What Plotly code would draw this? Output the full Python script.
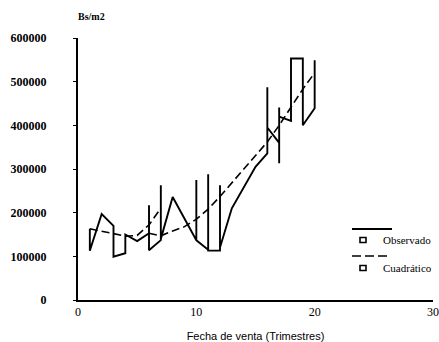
import plotly.graph_objects as go

# Observed series (quarter, Bs/m2) in drawing order
obs_x = [1, 1, 2, 3, 3, 4, 4, 5, 6, 6, 6, 7, 7, 7, 8, 10, 10, 10, 11, 11, 11, 12, 12, 12,
         13, 14, 15, 16, 16, 16, 17, 17, 17, 17, 18, 18, 19, 19, 20, 20]
obs_y = [163000, 113000, 197000, 170000, 99000, 107000, 150000, 135000, 153000, 217000, 114000,
         137000, 263000, 140000, 236000, 137000, 275000, 137000, 115000, 288000, 113000,
         113000, 263000, 120000, 210000, 258000, 305000, 336000, 487000, 395000, 360000,
         313000, 441000, 420000, 410000, 553000, 553000, 400000, 439000, 549000]

# Quadratic fit series
quad_x = [1, 2, 3, 4, 5, 6, 7, None, 6, 7, 8, 9, 10, 11, 12, 13, 14, 15, 16, 17, 18, 19, 20]
quad_y = [163000, 158000, 152000, 146000, 148000, 172000, 210000, None, 153000, 147000, 158000,
          168000, 185000, 208000, 237000, 268000, 298000, 330000, 362000, 400000, 443000,
          483000, 520000]

y_ticks = [0, 100000, 200000, 300000, 400000, 500000, 600000]
x_ticks = [0, 10, 20, 30]
legend_names = ["Observado", "Cuadrático"]

SERIF = "Liberation Serif"
L, R, T, B = 78, 6, 38, 42
W, H = 439, 342
PW, PH = W - L - R, H - T - B

fig = go.Figure()
fig.add_trace(go.Scatter(x=obs_x, y=obs_y, mode="lines", name=legend_names[0],
                         line=dict(color="black", width=1.9), showlegend=False))
fig.add_trace(go.Scatter(x=quad_x, y=quad_y, mode="lines", name=legend_names[1],
                         line=dict(color="black", width=1.6, dash="8px,4px"),
                         connectgaps=False, showlegend=False))

fig.update_layout(
    width=W, height=H,
    margin=dict(l=L, r=R, t=T, b=B),
    paper_bgcolor="white", plot_bgcolor="white",
    font=dict(family=SERIF, color="black"),
    xaxis=dict(range=[0, 30], tickvals=x_ticks, ticktext=[str(v) for v in x_ticks],
               automargin=False, ticklabeloverflow="allow",
               showline=True, linecolor="black", linewidth=2, showgrid=False, zeroline=False,
               ticks="", tickfont=dict(family=SERIF, size=12),
               title=dict(text="Fecha de venta (Trimestres)",
                          font=dict(family="Liberation Sans", size=11), standoff=14)),
    yaxis=dict(range=[0, 600000], tickvals=y_ticks, ticktext=[str(v) for v in y_ticks],
               automargin=False,
               showline=True, linecolor="black", linewidth=2, showgrid=False, zeroline=False,
               ticks="outside", ticklen=3, tickwidth=1, tickcolor="black",
               ticklabelstandoff=24,
               tickfont=dict(family=SERIF, size=12, weight="bold")),
)

# helpers: page pixels -> paper coordinates
def px_x(p):
    return (p - L) / PW

def px_y(p):
    return (H - B - p) / PH

fig.add_annotation(text="Bs/m2", xref="paper", yref="paper", x=px_x(91), y=px_y(17),
                   xanchor="center", yanchor="middle",
                   showarrow=False, font=dict(family=SERIF, size=10, weight="bold"))

# custom legend
fig.add_shape(type="line", xref="paper", yref="paper", x0=px_x(352), x1=px_x(392),
              y0=px_y(229), y1=px_y(229), line=dict(color="black", width=1.8))
fig.add_shape(type="line", xref="paper", yref="paper", x0=px_x(352), x1=px_x(390),
              y0=px_y(256), y1=px_y(256), line=dict(color="black", width=1.5, dash="9px,4px"))
for yy in (240, 268):
    fig.add_shape(type="rect", xref="paper", yref="paper", x0=px_x(360), x1=px_x(366),
                  y0=px_y(yy + 2.5), y1=px_y(yy - 2.5), line=dict(color="black", width=1.6),
                  fillcolor="white")
fig.add_annotation(text=legend_names[0], xref="paper", yref="paper", x=px_x(381), y=px_y(240),
                   xanchor="left", yanchor="middle", showarrow=False,
                   font=dict(family=SERIF, size=11))
fig.add_annotation(text=legend_names[1], xref="paper", yref="paper", x=px_x(381), y=px_y(268),
                   xanchor="left", yanchor="middle", showarrow=False,
                   font=dict(family=SERIF, size=11))

fig.write_html("out.html", config={"displayModeBar": False},
               post_script="document.body.style.margin='0';document.body.style.padding='0';")
